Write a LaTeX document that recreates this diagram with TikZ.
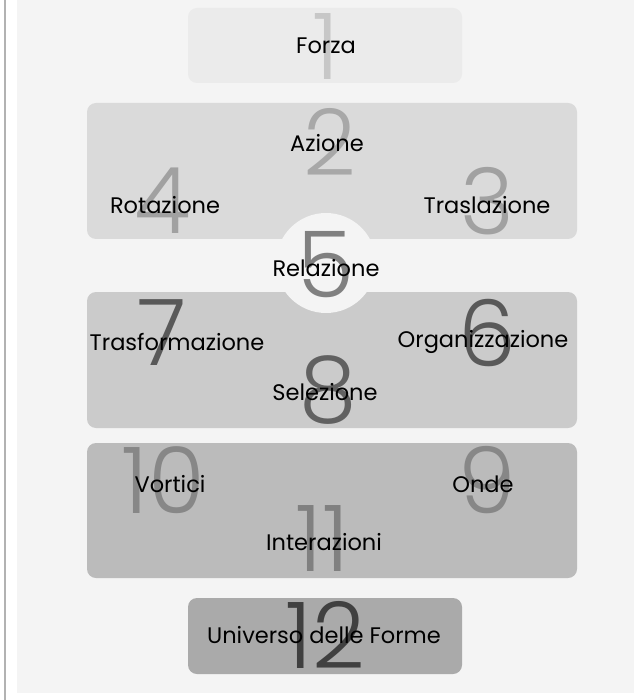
\documentclass[tikz,border=0pt]{standalone}
\usepackage{fontspec}
\setmainfont{Poppins}
\newfontfamily\digitfont{Poppins Light}
\usetikzlibrary{positioning}
\definecolor{panelbg}{HTML}{F4F4F4}
\definecolor{shadeA}{HTML}{EBEBEB}
\definecolor{shadeB}{HTML}{DADADA}
\definecolor{shadeC}{HTML}{CBCBCB}
\definecolor{shadeD}{HTML}{BBBBBB}
\definecolor{shadeE}{HTML}{AAAAAA}

\begin{document}
\begin{tikzpicture}[x=1pt, y=-1pt,
    band/.style={rounded corners=9pt, inner sep=0pt, minimum width=490pt},
    pill/.style={rounded corners=9pt, inner sep=0pt, minimum width=274pt, minimum height=75pt},
    bignum/.style={font=\digitfont\fontsize{92}{92}\selectfont, inner sep=0pt},
    lbl/.style={font=\fontsize{22.5}{26}\selectfont, text=black, inner sep=0pt}]
    \useasboundingbox (0,0) rectangle (636,700);
    \fill[white] (0,0) rectangle (636,700);
    \fill[panelbg] (17,0) rectangle (634,693);
    \draw[black!30, line width=2pt] (5,0) -- (5,700);
    % levels
    \node[pill, fill=shadeA] (forza) at (325,45.5) {};
    \node[band, fill=shadeB, minimum height=136pt] (azione) at (332,171) {};
    \node[band, fill=shadeC, minimum height=136pt] (trasf) at (332,360) {};
    \node[band, fill=shadeD, minimum height=135pt] (vortici) at (332,510.5) {};
    \node[pill, fill=shadeE, minimum height=76pt] (universo) at (325,636) {};
    \node[circle, fill=panelbg, minimum size=100pt, inner sep=0pt] (hub) at (326,263) {};
    % numbers
    \node[bignum, text=black!22] (n1) at (326,47) {1};
    \node[bignum, text=black!34] (n2) at (330,142) {2};
    \node[bignum, text=black!37] (n3) at (487,201) {3};
    \node[bignum, text=black!37] (n4) at (163,201) {4};
    \node[bignum, text=black!50] (n5) at (326,265) {5};
    \node[bignum, text=black!65] (n6) at (487,333) {6};
    \node[bignum, text=black!65] (n7) at (162,333) {7};
    \node[bignum, text=black!62] (n8) at (328,390) {8};
    \node[bignum, text=black!47] (n9) at (487,480) {9};
    \node[bignum, text=black!47] (n10) at (163,480) {10};
    \node[bignum, text=black!50] (n11) at (322,539) {11};
    \node[bignum, text=black!75] (n12) at (325,635) {12};
    % labels
    \node[lbl] (l1) at (326,46) {Forza};
    \node[lbl] (l2) at (327,143) {Azione};
    \node[lbl] (l3) at (487,205) {Traslazione};
    \node[lbl] (l4) at (165,205) {Rotazione};
    \node[lbl] (l5) at (326,268) {Relazione};
    \node[lbl] (l6) at (483,342) {Organizzazione};
    \node[lbl] (l7) at (177,342) {Trasformazione};
    \node[lbl] (l8) at (325,392) {Selezione};
    \node[lbl] (l9) at (483,484) {Onde};
    \node[lbl] (l10) at (170,484) {Vortici};
    \node[lbl] (l11) at (324,542) {Interazioni};
    \node[lbl] (l12) at (324,635) {Universo delle Forme};
\end{tikzpicture}
\end{document}
